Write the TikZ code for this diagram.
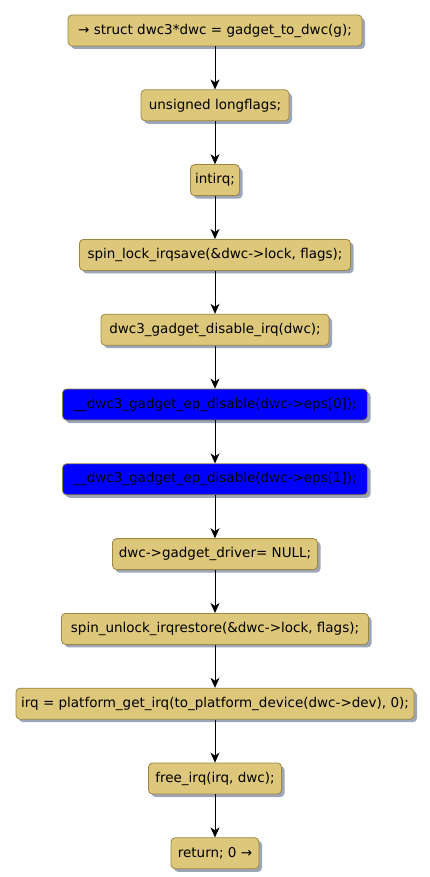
\documentclass[tikz,border=0pt]{standalone}
\usepackage{fontspec}
\setmainfont{DejaVu Sans}
\usetikzlibrary{arrows.meta, positioning, shadows}
\definecolor{actFill}{HTML}{DDC77A}
\definecolor{actLine}{HTML}{9C8646}
\definecolor{actShadow}{HTML}{9CA6B8}
\definecolor{epFill}{HTML}{0000FF}

\begin{document}
\begin{tikzpicture}[x=1pt, y=-1pt,
    node distance=43pt,
    act/.style={draw=actLine, fill=actFill, rounded corners=4pt,
      minimum height=31pt, minimum width=#1, inner xsep=2pt, line width=0.8pt,
      font=\fontsize{13.5}{16}\selectfont,
      drop shadow={shadow xshift=3pt, shadow yshift=-3pt, fill=actShadow, opacity=1}},
    epact/.style={act=#1, fill=epFill},
    flow/.style={-{Stealth[length=10pt, width=9pt, inset=3pt]}, line width=0.8pt}]
    \useasboundingbox (0,0) rectangle (430,877);
    \node[act=294pt] (s1) at (215,30.5) {→ struct dwc3*dwc = gadget\_to\_dwc(g);};
    \node[act=148pt, below=of s1] (s2) {unsigned longflags;};
    \node[act=49pt, below=of s2] (s3) {intirq;};
    \node[act=271pt, below=of s3] (s4) {spin\_lock\_irqsave(\&dwc->lock, flags);};
    \node[act=228pt, below=of s4] (s5) {dwc3\_gadget\_disable\_irq(dwc);};
    \node[epact=305pt, below=of s5] (s6) {\_\_dwc3\_gadget\_ep\_disable(dwc->eps[0]);};
    \node[epact=305pt, below=of s6] (s7) {\_\_dwc3\_gadget\_ep\_disable(dwc->eps[1]);};
    \node[act=205pt, below=of s7] (s8) {dwc->gadget\_driver= NULL;};
    \node[act=307pt, below=of s8] (s9) {spin\_unlock\_irqrestore(\&dwc->lock, flags);};
    \node[act=398pt, below=of s9] (s10) {irq = platform\_get\_irq(to\_platform\_device(dwc->dev), 0);};
    \node[act=133pt, below=of s10] (s11) {free\_irq(irq, dwc);};
    \node[act=88pt, below=of s11] (s12) {return; 0 →};
    % control flow
    \foreach \a [count=\b from 2] in {1,...,11}
      \draw[flow] (s\a) -- (s\b);
\end{tikzpicture}
\end{document}
